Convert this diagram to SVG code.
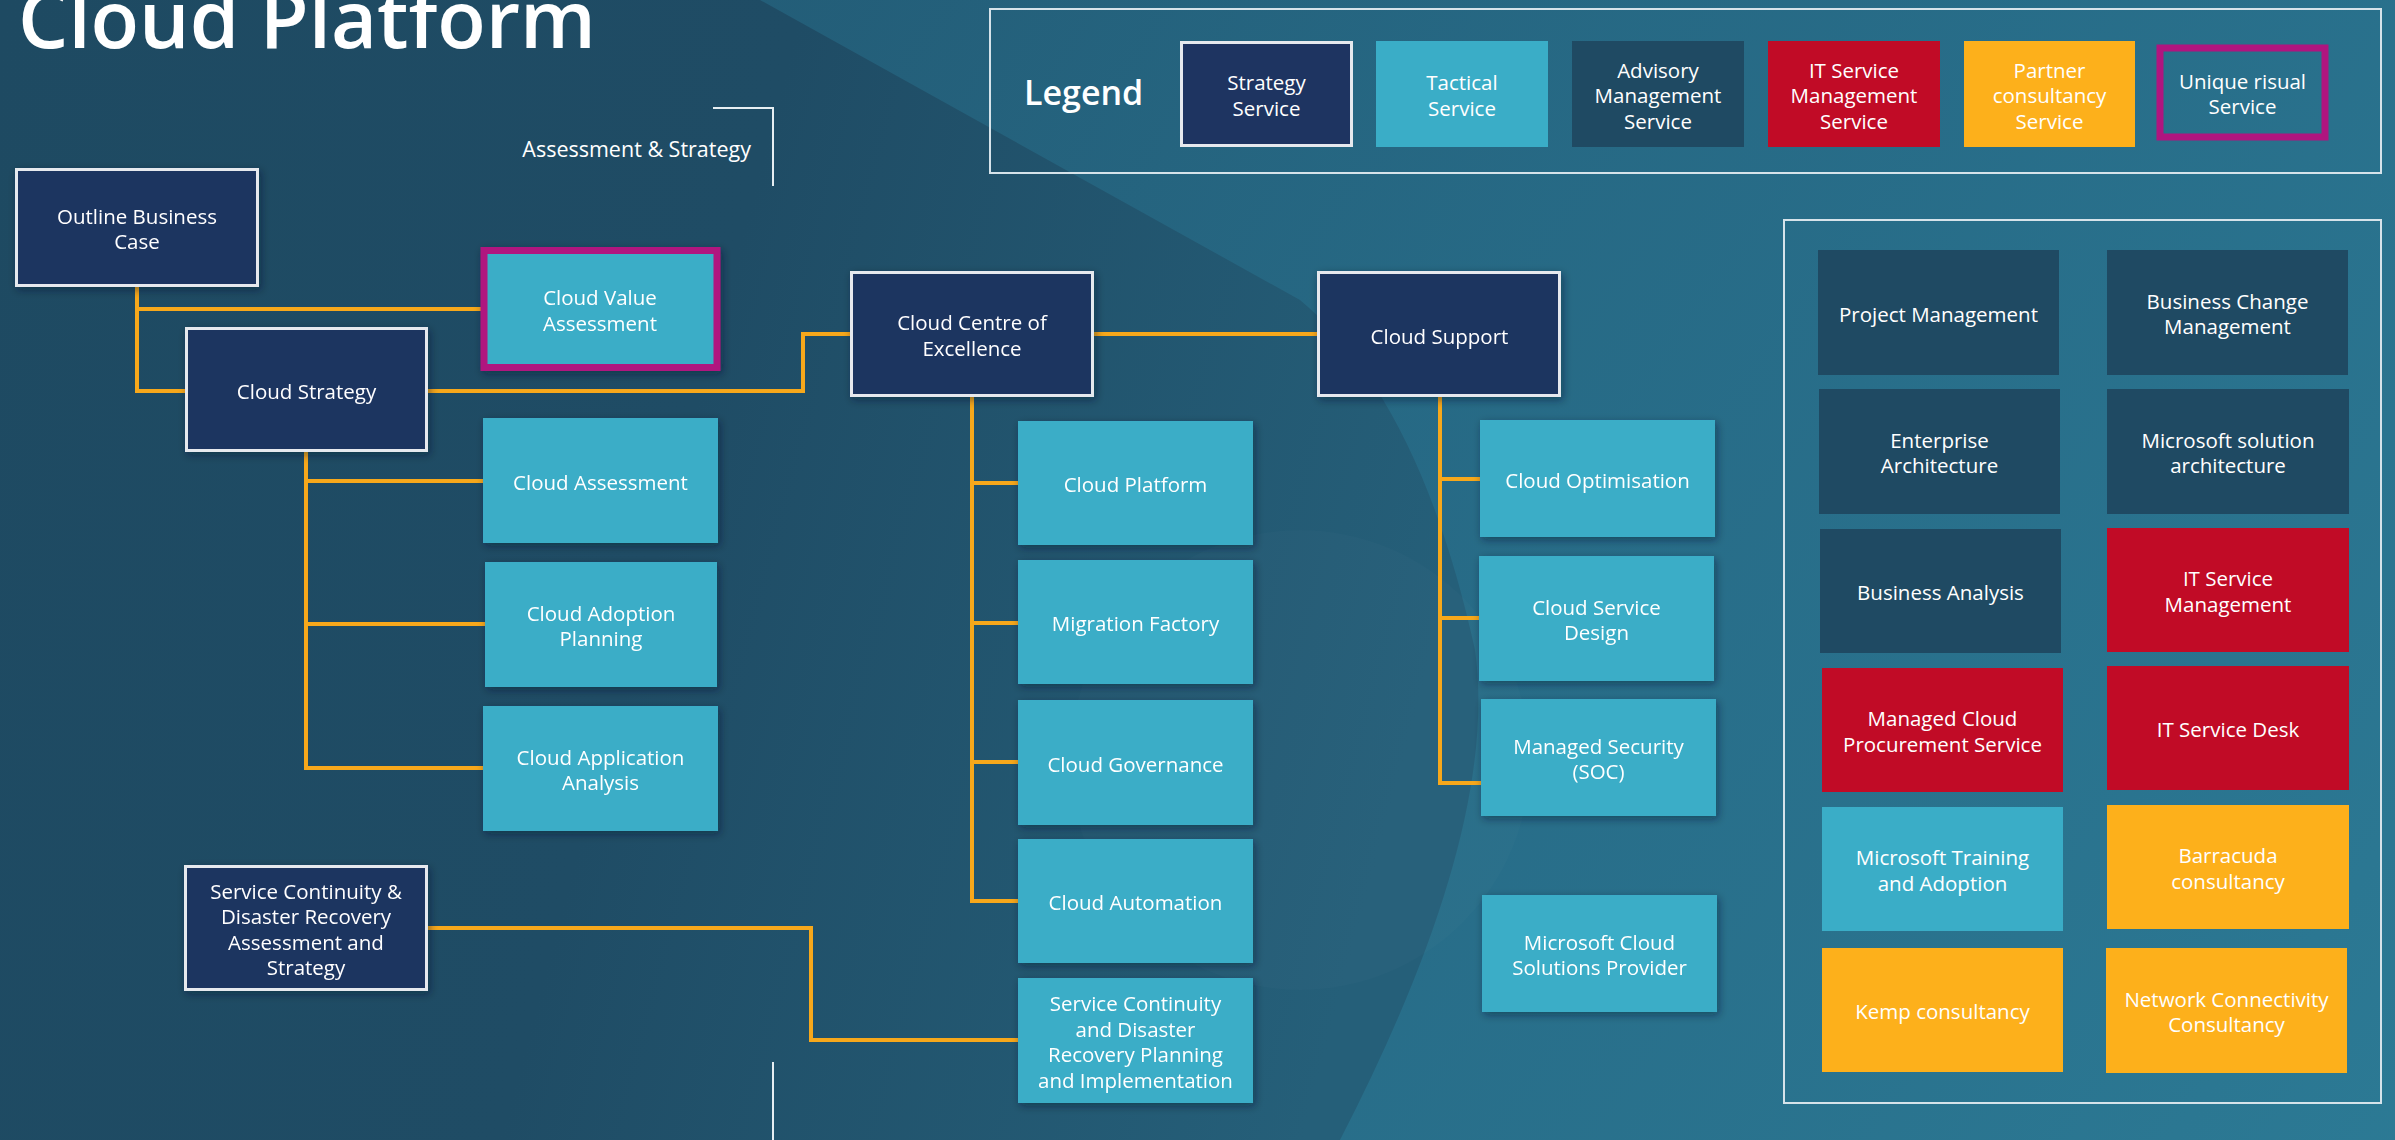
<svg xmlns="http://www.w3.org/2000/svg" width="2395" height="1140" viewBox="0 0 2395 1140">
<defs>
<linearGradient id="bgDark" gradientUnits="userSpaceOnUse" x1="0" y1="0" x2="1500" y2="400">
<stop offset="0" stop-color="#1E4A62"/>
<stop offset="0.5" stop-color="#1F4C65"/>
<stop offset="1" stop-color="#255F79"/>
</linearGradient>
<linearGradient id="bgLight" gradientUnits="userSpaceOnUse" x1="800" y1="0" x2="2395" y2="1140">
<stop offset="0" stop-color="#24617C"/>
<stop offset="0.5" stop-color="#286F8B"/>
<stop offset="1" stop-color="#2D7E99"/>
</linearGradient>
<filter id="sh" x="-10%" y="-10%" width="125%" height="130%">
<feDropShadow dx="2" dy="3" stdDeviation="4" flood-color="#0A1E2A" flood-opacity="0.45"/>
</filter>
</defs>
<style>
.t{font-family:"Open Sans","Noto Sans","DejaVu Sans",sans-serif;font-size:20.5px;fill:#FFFFFF;text-anchor:middle}
.strat{fill:#1E3461;stroke:#E6E9EE;stroke-width:3}
.tact{fill:#3AADC7}
.adv{fill:#1F4A63}
.red{fill:#C10B26}
.amb{fill:#FDB01B}
.uniq{stroke:#B0157F;stroke-width:7}
.con{fill:none;stroke:#F7A81B;stroke-width:4}
.frame{fill:none;stroke:#D6E3EA;stroke-width:2}
.wl{fill:none;stroke:#E6EEF2;stroke-width:2}
</style>
<rect x="0" y="0" width="2395" height="1140" fill="url(#bgDark)"/>
<path d="M760,0 L1300,300 Q1420,400 1475,650 Q1500,830 1340,1140 L2395,1140 L2395,0 Z" fill="url(#bgLight)" opacity="0.85"/>
<circle cx="1300" cy="760" r="230" fill="#FFFFFF" opacity="0.015"/>

<text x="18" y="48" textLength="578" lengthAdjust="spacingAndGlyphs" style="font-family:'Open Sans','Noto Sans','DejaVu Sans',sans-serif;font-size:80px;font-weight:600;fill:#FFFFFF">Cloud Platform</text>

<g id="assessment-label">
<path class="wl" d="M713,108 H773 V186"/>
<text x="751" y="157" style="font-family:'Open Sans','Noto Sans','DejaVu Sans',sans-serif;font-size:21.5px;fill:#FFFFFF;text-anchor:end">Assessment &amp; Strategy</text>
<path class="wl" d="M773,1062 V1140"/>
</g>

<g id="legend">
<rect class="frame" x="990" y="9" width="1391" height="164"/>
<text x="1024" y="105" style="font-family:'Open Sans','Noto Sans','DejaVu Sans',sans-serif;font-size:34px;font-weight:600;fill:#FFFFFF">Legend</text>
<g id="legend-strategy"><rect class="strat" x="1181.5" y="42.5" width="170" height="103"/><text class="t" x="1266.5" y="90.25">Strategy<tspan x="1266.5" dy="25.5">Service</tspan></text></g>
<g id="legend-tactical"><rect class="tact" x="1376" y="41" width="172" height="106"/><text class="t" x="1462" y="90.25">Tactical<tspan x="1462" dy="25.5">Service</tspan></text></g>
<g id="legend-advisory"><rect class="adv" x="1572" y="41" width="172" height="106"/><text class="t" x="1658" y="77.5">Advisory<tspan x="1658" dy="25.5">Management</tspan><tspan x="1658" dy="25.5">Service</tspan></text></g>
<g id="legend-itsm"><rect class="red" x="1768" y="41" width="172" height="106"/><text class="t" x="1854" y="77.5">IT Service<tspan x="1854" dy="25.5">Management</tspan><tspan x="1854" dy="25.5">Service</tspan></text></g>
<g id="legend-partner"><rect class="amb" x="1964" y="41" width="171" height="106"/><text class="t" x="2049.5" y="77.5">Partner<tspan x="2049.5" dy="25.5">consultancy</tspan><tspan x="2049.5" dy="25.5">Service</tspan></text></g>
<g id="legend-unique"><rect class="uniq" x="2160" y="48" width="165" height="89" fill="none"/><text class="t" x="2242.5" y="88.75">Unique risual<tspan x="2242.5" dy="25.5">Service</tspan></text></g>
</g>

<g id="connectors">
<path class="con" d="M137,287 V391 H186"/>
<path class="con" d="M137,309 H481"/>
<path class="con" d="M428,391 H803 V334 H851"/>
<path class="con" d="M306,452 V768 H483"/>
<path class="con" d="M306,481 H483"/>
<path class="con" d="M306,624 H485"/>
<path class="con" d="M972,397 V901 H1018"/>
<path class="con" d="M972,483 H1018"/>
<path class="con" d="M972,623 H1018"/>
<path class="con" d="M972,762 H1018"/>
<path class="con" d="M1094,334 H1318"/>
<path class="con" d="M1440,397 V783 H1481"/>
<path class="con" d="M1440,479 H1480"/>
<path class="con" d="M1440,618 H1479"/>
<path class="con" d="M428,928 H811 V1040 H1018"/>
</g>

<g id="outline-business-case" filter="url(#sh)"><rect class="strat" x="16.5" y="169.5" width="241" height="116"/><text class="t" x="137" y="223.75">Outline Business<tspan x="137" dy="25.5">Case</tspan></text></g>
<g id="cloud-value-assessment" filter="url(#sh)"><rect class="tact uniq" x="484" y="250.5" width="233" height="117"/><text class="t" x="600" y="305.25">Cloud Value<tspan x="600" dy="25.5">Assessment</tspan></text></g>
<g id="cloud-strategy" filter="url(#sh)"><rect class="strat" x="186.5" y="328.5" width="240" height="122"/><text class="t" x="306.5" y="398.5">Cloud Strategy</text></g>
<g id="cloud-centre-of-excellence" filter="url(#sh)"><rect class="strat" x="851.5" y="272.5" width="241" height="123"/><text class="t" x="972" y="330.25">Cloud Centre of<tspan x="972" dy="25.5">Excellence</tspan></text></g>
<g id="cloud-support" filter="url(#sh)"><rect class="strat" x="1318.5" y="272.5" width="241" height="123"/><text class="t" x="1439.5" y="343.5">Cloud Support</text></g>
<g id="sc-dr-assessment" filter="url(#sh)"><rect class="strat" x="185.5" y="866.5" width="241" height="123"/><text class="t" x="306" y="898.75">Service Continuity &amp;<tspan x="306" dy="25.5">Disaster Recovery</tspan><tspan x="306" dy="25.5">Assessment and</tspan><tspan x="306" dy="25.5">Strategy</tspan></text></g>

<g id="cloud-assessment" filter="url(#sh)"><rect class="tact" x="483" y="418" width="235" height="125"/><text class="t" x="600.5" y="489.5">Cloud Assessment</text></g>
<g id="cloud-adoption-planning" filter="url(#sh)"><rect class="tact" x="485" y="562" width="232" height="125"/><text class="t" x="601" y="620.75">Cloud Adoption<tspan x="601" dy="25.5">Planning</tspan></text></g>
<g id="cloud-application-analysis" filter="url(#sh)"><rect class="tact" x="483" y="706" width="235" height="125"/><text class="t" x="600.5" y="764.75">Cloud Application<tspan x="600.5" dy="25.5">Analysis</tspan></text></g>

<g id="cloud-platform" filter="url(#sh)"><rect class="tact" x="1018" y="421" width="235" height="124"/><text class="t" x="1135.5" y="492">Cloud Platform</text></g>
<g id="migration-factory" filter="url(#sh)"><rect class="tact" x="1018" y="560" width="235" height="124"/><text class="t" x="1135.5" y="631">Migration Factory</text></g>
<g id="cloud-governance" filter="url(#sh)"><rect class="tact" x="1018" y="700" width="235" height="125"/><text class="t" x="1135.5" y="771.5">Cloud Governance</text></g>
<g id="cloud-automation" filter="url(#sh)"><rect class="tact" x="1018" y="839" width="235" height="124"/><text class="t" x="1135.5" y="910">Cloud Automation</text></g>
<g id="sc-dr-planning" filter="url(#sh)"><rect class="tact" x="1018" y="978" width="235" height="125"/><text class="t" x="1135.5" y="1011.25">Service Continuity<tspan x="1135.5" dy="25.5">and Disaster</tspan><tspan x="1135.5" dy="25.5">Recovery Planning</tspan><tspan x="1135.5" dy="25.5">and Implementation</tspan></text></g>

<g id="cloud-optimisation" filter="url(#sh)"><rect class="tact" x="1480" y="420" width="235" height="117"/><text class="t" x="1597.5" y="487.5">Cloud Optimisation</text></g>
<g id="cloud-service-design" filter="url(#sh)"><rect class="tact" x="1479" y="556" width="235" height="125"/><text class="t" x="1596.5" y="614.75">Cloud Service<tspan x="1596.5" dy="25.5">Design</tspan></text></g>
<g id="managed-security" filter="url(#sh)"><rect class="tact" x="1481" y="699" width="235" height="117"/><text class="t" x="1598.5" y="753.75">Managed Security<tspan x="1598.5" dy="25.5">(SOC)</tspan></text></g>
<g id="ms-cloud-solutions-provider" filter="url(#sh)"><rect class="tact" x="1482" y="895" width="235" height="117"/><text class="t" x="1599.5" y="949.75">Microsoft Cloud<tspan x="1599.5" dy="25.5">Solutions Provider</tspan></text></g>

<g id="services-panel">
<rect class="frame" x="1784" y="220" width="597" height="883"/>
<g id="project-management"><rect class="adv" x="1818" y="250" width="241" height="125"/><text class="t" x="1938.5" y="321.5">Project Management</text></g>
<g id="business-change-management"><rect class="adv" x="2107" y="250" width="241" height="125"/><text class="t" x="2227.5" y="308.75">Business Change<tspan x="2227.5" dy="25.5">Management</tspan></text></g>
<g id="enterprise-architecture"><rect class="adv" x="1819" y="389" width="241" height="125"/><text class="t" x="1939.5" y="447.75">Enterprise<tspan x="1939.5" dy="25.5">Architecture</tspan></text></g>
<g id="ms-solution-architecture"><rect class="adv" x="2107" y="389" width="242" height="125"/><text class="t" x="2228" y="447.75">Microsoft solution<tspan x="2228" dy="25.5">architecture</tspan></text></g>
<g id="business-analysis"><rect class="adv" x="1820" y="529" width="241" height="124"/><text class="t" x="1940.5" y="600">Business Analysis</text></g>
<g id="it-service-management"><rect class="red" x="2107" y="528" width="242" height="124"/><text class="t" x="2228" y="586.25">IT Service<tspan x="2228" dy="25.5">Management</tspan></text></g>
<g id="managed-cloud-procurement"><rect class="red" x="1822" y="668" width="241" height="124"/><text class="t" x="1942.5" y="726.25">Managed Cloud<tspan x="1942.5" dy="25.5">Procurement Service</tspan></text></g>
<g id="it-service-desk"><rect class="red" x="2107" y="666" width="242" height="124"/><text class="t" x="2228" y="737">IT Service Desk</text></g>
<g id="ms-training-adoption"><rect class="tact" x="1822" y="807" width="241" height="124"/><text class="t" x="1942.5" y="865.25">Microsoft Training<tspan x="1942.5" dy="25.5">and Adoption</tspan></text></g>
<g id="barracuda-consultancy"><rect class="amb" x="2107" y="805" width="242" height="124"/><text class="t" x="2228" y="863.25">Barracuda<tspan x="2228" dy="25.5">consultancy</tspan></text></g>
<g id="kemp-consultancy"><rect class="amb" x="1822" y="948" width="241" height="124"/><text class="t" x="1942.5" y="1019">Kemp consultancy</text></g>
<g id="network-connectivity"><rect class="amb" x="2106" y="948" width="241" height="125"/><text class="t" x="2226.5" y="1006.75">Network Connectivity<tspan x="2226.5" dy="25.5">Consultancy</tspan></text></g>
</g>
</svg>
